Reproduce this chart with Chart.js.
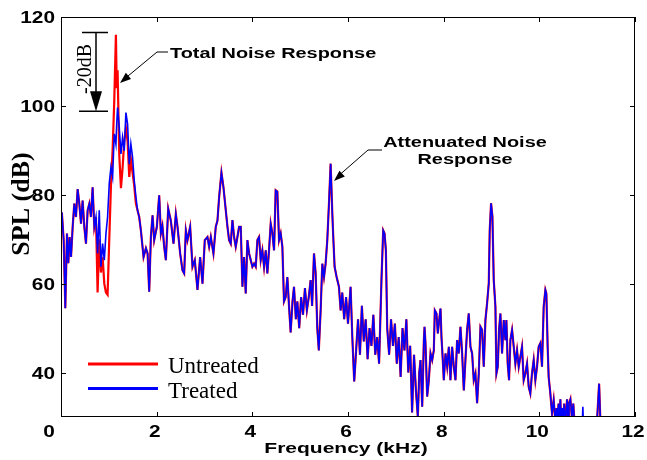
<!DOCTYPE html>
<html>
<head>
<meta charset="utf-8">
<script src="https://cdn.jsdelivr.net/npm/chart.js@4.4.0/dist/chart.umd.min.js"></script>
<style>
  body { margin: 0; background: #fff; }
  #wrap { width: 647px; height: 460px; }
</style>
</head>
<body>
<div id="wrap"><canvas id="splChart"></canvas></div>
<script>
// frequency (kHz) of each sample
const freqs = [
  0.00, 0.02, 0.056, 0.09, 0.125, 0.153, 0.18, 0.21, 0.244, 0.278, 0.313, 0.348, 0.383, 0.418, 0.452, 0.487,
  0.522, 0.557, 0.592, 0.626, 0.661, 0.696, 0.731, 0.765, 0.80, 0.835, 0.87, 0.905, 0.94, 0.974,
  1.009, 1.044, 1.079, 1.113, 1.148, 1.165, 1.183, 1.218, 1.253, 1.287, 1.322, 1.357, 1.392, 1.427, 1.461, 1.496,
  1.531, 1.566, 1.60, 1.635, 1.67, 1.726, 1.775, 1.81, 1.844, 1.879, 1.914, 1.948, 2.004, 2.053, 2.088, 2.12,
  2.157, 2.192, 2.241, 2.296, 2.352, 2.401, 2.436, 2.491, 2.54, 2.575, 2.61, 2.644, 2.70, 2.749, 2.797, 2.853,
  2.909, 2.958, 3.006, 3.062, 3.097, 3.132, 3.187, 3.236, 3.271, 3.306, 3.354, 3.396, 3.445, 3.48, 3.514,
  3.549, 3.584, 3.619, 3.653, 3.688, 3.723, 3.758, 3.793, 3.827, 3.862, 3.897, 3.932, 3.967,
  4.001, 4.036, 4.071, 4.106, 4.14, 4.175, 4.21, 4.245, 4.28, 4.314, 4.349, 4.384, 4.419, 4.454, 4.488, 4.523,
  4.558, 4.593, 4.628, 4.662, 4.697, 4.732, 4.767, 4.801, 4.84, 4.871, 4.91, 4.941, 4.98,
  5.02, 5.06, 5.10, 5.14, 5.18, 5.219, 5.25, 5.289, 5.324, 5.358, 5.39, 5.428, 5.463, 5.498, 5.532, 5.567,
  5.602, 5.637, 5.672, 5.692, 5.72, 5.762, 5.811, 5.846, 5.88, 5.92, 5.96,
  6.00, 6.054, 6.09, 6.13, 6.17, 6.21, 6.25, 6.29, 6.33, 6.37, 6.41, 6.45, 6.49, 6.53, 6.57, 6.61, 6.65,
  6.70, 6.736, 6.764, 6.792, 6.82, 6.86, 6.90, 6.94, 6.98,
  7.02, 7.06, 7.10, 7.14, 7.18, 7.22, 7.26, 7.30, 7.34, 7.38, 7.42, 7.46, 7.49, 7.516, 7.551, 7.586, 7.60,
  7.62, 7.655, 7.69, 7.725, 7.76, 7.794, 7.815, 7.85, 7.878, 7.906, 7.934, 7.954, 7.982,
  8.003, 8.038, 8.073, 8.108, 8.142, 8.177, 8.212, 8.247, 8.281, 8.316, 8.351, 8.386, 8.421, 8.455, 8.49,
  8.525, 8.56, 8.595, 8.629, 8.664, 8.699, 8.734, 8.769, 8.803, 8.838, 8.873, 8.908, 8.943, 8.963, 8.991,
  9.019, 9.047, 9.082, 9.103, 9.131, 9.158, 9.186, 9.221, 9.256, 9.291, 9.311, 9.339, 9.367, 9.395, 9.43,
  9.465, 9.499, 9.534, 9.569, 9.604, 9.638, 9.673, 9.708, 9.743, 9.778, 9.812, 9.847, 9.882, 9.917, 9.952, 9.986,
  10.021, 10.056, 10.091, 10.126, 10.147, 10.174, 10.195, 10.23, 10.265, 10.30, 10.334, 10.36, 10.38, 10.40,
  10.42, 10.44, 10.46, 10.48, 10.50, 10.52, 10.54, 10.56, 10.58, 10.60, 10.62, 10.65, 10.68, 10.71, 10.74,
  10.78, 10.85, 10.89, 10.91, 10.93, 11.00, 11.10, 11.20, 11.25, 11.28, 11.35
];

// SPL (dB) after treatment
const treated = [
  76, 75.7, 69.8, 54.5, 71.3, 64.6, 70.5, 66, 72.8, 78, 75, 81.3, 78, 73.5, 78.7, 72.8,
  69, 76.5, 78, 75, 81.7, 72.8, 75, 66.8, 76.5, 63.8, 69, 65.3, 71.3, 75,
  82.5, 86.2, 84, 93.7, 91.4, 96, 99.6, 95.1, 89.2, 92.9, 89.9, 98.5, 95.9, 86.9, 91.4, 88.4,
  83.2, 79.5, 76.5, 75, 72, 66, 68, 66.8, 58.2, 70.5, 75.4, 69.8, 72.8, 79.9, 71.3, 73,
  68.3, 65.3, 76.9, 74.2, 69, 75.7, 72.8, 66.8, 63, 62.3, 72, 69.8, 72.8, 63.8, 65.3, 58.6,
  66, 60, 69.8, 70.5, 68.3, 70.5, 66.8, 72.8, 74.2, 79.5, 85, 81.7, 76.5, 72.8, 69.8,
  69, 74.3, 70.5, 68.3, 70.5, 72.8, 72.8, 59.3, 66, 57.8, 69.8, 66.8, 65.3,
  63.8, 64.5, 63.8, 69.8, 70.5, 65.3, 67.5, 63.8, 67.5, 62.3, 67.5, 73.5, 71.3, 67.5, 81, 80.7,
  69.8, 71.3, 68.3, 56, 57, 61.5, 55, 49, 56, 59.3, 52, 56, 50,
  57, 53, 59, 54, 57, 60.8, 55, 66.8, 62.3, 50, 45, 54, 64.5, 61.5, 64.5, 69.8,
  78, 87, 75.8, 70.5, 63.8, 61.5, 59.3, 54, 58, 52, 57,
  51, 59.3, 48, 38, 45, 52, 44, 55, 47, 52, 43, 50, 46, 53, 44, 48, 42,
  61, 72, 71.3, 67.5, 50, 44, 52, 46, 51,
  42, 48, 39, 50, 45, 52, 40, 46, 31, 44, 36, 30, 40, 42.8, 32.3, 47.3, 50.3,
  46.6, 34.6, 38.3, 44.3, 42.8, 45, 54, 53.3, 48.8, 51.8, 54.4, 48, 42.8,
  38.3, 44.3, 41.3, 45.8, 38.3, 45.8, 41.3, 38.3, 47.3, 44.3, 50.3, 44.3, 36, 42.8, 49.6,
  53.3, 45.8, 44.3, 38.3, 39.8, 33.1, 39.8, 50.3, 49.6, 41.3, 51.8, 55.6, 60.1, 72, 78.1,
  75.1, 60.8, 54.8, 39.8, 41.3, 49.6, 53.3, 44.3, 51.8, 47.3, 51.8, 42, 38.3, 47.3, 49.6,
  45.8, 42, 45, 41.3, 43.6, 45.8, 38.3, 39.8, 42, 36.8, 35.3, 39.8, 42.8, 38.3, 41.3, 45.8,
  46.6, 41.3, 54.8, 58.6, 57.8, 45.8, 39, 35.3, 30.8, 33.8, 29, 32, 28, 33,
  29, 34, 28, 32, 29, 33, 28, 31, 34, 29, 33, 34, 30, 33, 28,
  26, 25, 26, 32.3, 25, 24, 25, 28, 37.5, 28, 24
];

// SPL (dB) without treatment
const untreated = [
  76, 75.7, 69.8, 54.5, 71.3, 64.6, 70.5, 66, 72.8, 78, 75, 81.3, 78, 73.5, 78.7, 72.8,
  69, 76.5, 78, 75, 81.7, 72.8, 75, 58, 70, 62.5, 66, 60, 58, 57.5,
  70, 82, 90, 101, 116, 104, 108, 89, 81.5, 86, 92, 95, 92, 84, 88, 85,
  82, 78, 76.5, 75, 72, 66, 68, 66.8, 58.2, 70.5, 75.4, 69.8, 72.8, 79.9, 71.3, 73,
  68.3, 65.3, 76.9, 74.2, 69, 75.7, 72.8, 66.8, 63, 62.3, 72, 69.8, 72.8, 63.8, 65.3, 58.6,
  66, 60, 69.8, 70.5, 68.3, 70.5, 66.8, 72.8, 74.2, 79.5, 85, 81.7, 76.5, 72.8, 69.8,
  69, 74.3, 70.5, 68.3, 70.5, 72.8, 72.8, 59.3, 66, 57.8, 69.8, 66.8, 65.3,
  63.8, 64.5, 63.8, 69.8, 70.5, 65.3, 67.5, 63.8, 67.5, 62.3, 67.5, 73.5, 71.3, 67.5, 81, 80.7,
  69.8, 71.3, 68.3, 56, 57, 61.5, 55, 49, 56, 59.3, 52, 56, 50,
  57, 53, 59, 54, 57, 60.8, 55, 66.8, 62.3, 50, 45, 54, 64.5, 61.5, 64.5, 69.8,
  78, 87, 75.8, 70.5, 63.8, 61.5, 59.3, 54, 58, 52, 57,
  51, 59.3, 48, 38, 45, 52, 44, 55, 47, 52, 43, 50, 46, 53, 44, 48, 42,
  61, 72, 71.3, 67.5, 50, 44, 52, 46, 51,
  42, 48, 39, 50, 45, 52, 40, 46, 31, 44, 36, 30, 40, 42.8, 32.3, 47.3, 50.3,
  46.6, 34.6, 38.3, 44.3, 42.8, 45, 54, 53.3, 48.8, 51.8, 54.4, 48, 42.8,
  38.3, 44.3, 41.3, 45.8, 38.3, 45.8, 41.3, 38.3, 47.3, 44.3, 50.3, 44.3, 36, 42.8, 49.6,
  53.3, 45.8, 44.3, 38.3, 39.8, 33.1, 39.8, 50.3, 49.6, 41.3, 51.8, 55.6, 60.1, 72, 78.1,
  75.1, 60.8, 54.8, 39.8, 41.3, 49.6, 53.3, 44.3, 51.8, 47.3, 51.8, 42, 38.3, 47.3, 49.6,
  45.8, 42, 45, 41.3, 43.6, 45.8, 38.3, 39.8, 42, 36.8, 35.3, 39.8, 42.8, 38.3, 41.3, 45.8,
  46.6, 41.3, 54.8, 58.6, 57.8, 45.8, 39, 35.3, 30.8, 33.8, 29, 32, 28, 33,
  29, 34, 28, 32, 29, 33, 28, 31, 34, 29, 33, 34, 30, 33, 28,
  26, 25, 26, 28, 25, 24, 25, 28, 37.5, 28, 24
];

const xTicks = [0, 2, 4, 6, 8, 10, 12];
const yTicks = [40, 60, 80, 100, 120];

const toPoints = vals => freqs.map((f, i) => ({ x: f, y: vals[i] }));

function stretchText(ctx, txt, x, y, font, align, sx) {
    ctx.save();
    ctx.font = font;
    ctx.textAlign = align;
    ctx.textBaseline = 'alphabetic';
    ctx.translate(x, y);
    ctx.scale(sx, 1);
    ctx.fillText(txt, 0, 0);
    ctx.restore();
}

function arrowHead(ctx, x1, y1, x2, y2, len, half) {
    const a = Math.atan2(y2 - y1, x2 - x1);
    ctx.beginPath();
    ctx.moveTo(x2, y2);
    ctx.lineTo(x2 - len * Math.cos(a) + half * Math.sin(a), y2 - len * Math.sin(a) - half * Math.cos(a));
    ctx.lineTo(x2 - len * Math.cos(a) - half * Math.sin(a), y2 - len * Math.sin(a) + half * Math.cos(a));
    ctx.closePath();
    ctx.fill();
}

const decorPlugin = {
    id: 'decor',
    afterDraw(chart) {
        const ctx = chart.ctx;
        const a = chart.chartArea;
        const xs = chart.scales.x, ys = chart.scales.y;
        ctx.save();
        ctx.strokeStyle = '#000';
        ctx.fillStyle = '#000';
        ctx.lineWidth = 1;
        ctx.strokeRect(a.left + 0.5, a.top + 0.5, a.right - a.left - 1, a.bottom - a.top - 1);

        // inward ticks on all four sides
        ctx.beginPath();
        xTicks.forEach(v => {
            const px = Math.round(xs.getPixelForValue(v)) + 0.5;
            ctx.moveTo(px, a.bottom); ctx.lineTo(px, a.bottom - 5);
            ctx.moveTo(px, a.top); ctx.lineTo(px, a.top + 5);
        });
        yTicks.forEach(v => {
            const py = Math.round(ys.getPixelForValue(v)) + 0.5;
            ctx.moveTo(a.left, py); ctx.lineTo(a.left + 5, py);
            ctx.moveTo(a.right, py); ctx.lineTo(a.right - 5, py);
        });
        ctx.stroke();

        const tickFont = 'bold 16px "Liberation Sans", Arial, sans-serif';
        xTicks.forEach((v, i) => {
            const px = xs.getPixelForValue(v) - (i === 0 ? 12 : 2);
            stretchText(ctx, String(v), px, a.bottom + 20, tickFont, 'center', 1.3);
        });
        yTicks.forEach(v => {
            stretchText(ctx, String(v), a.left - 6, ys.getPixelForValue(v) + 6, tickFont, 'right', 1.3);
        });

        // axis titles
        stretchText(ctx, 'Frequency (kHz)', (a.left + a.right) / 2 - 2, 453, 'bold 14px "Liberation Sans", Arial, sans-serif', 'center', 1.5);
        ctx.save();
        ctx.translate(29, 204);
        ctx.rotate(-Math.PI / 2);
        ctx.font = 'bold 26px "Liberation Serif", "Times New Roman", serif';
        ctx.textAlign = 'center';
        ctx.fillText('SPL (dB)', 0, 0);
        ctx.restore();

        // -20dB marker
        const top = ys.getPixelForValue(116.5), bot = ys.getPixelForValue(98.8);
        ctx.lineWidth = 1.5;
        ctx.beginPath();
        ctx.moveTo(82, top); ctx.lineTo(108, top);
        ctx.moveTo(79, bot); ctx.lineTo(108, bot);
        ctx.moveTo(96, top); ctx.lineTo(96, bot - 18);
        ctx.stroke();
        ctx.beginPath();
        ctx.moveTo(90, bot - 20); ctx.lineTo(102, bot - 20); ctx.lineTo(96, bot); ctx.closePath();
        ctx.fill();
        ctx.save();
        ctx.translate(91, 69);
        ctx.rotate(-Math.PI / 2);
        ctx.font = '20px "Liberation Serif", "Times New Roman", serif';
        ctx.textAlign = 'center';
        ctx.fillText('-20dB', 0, 0);
        ctx.restore();

        // callouts
        const annFont = 'bold 14px "Liberation Sans", Arial, sans-serif';
        ctx.lineWidth = 1;
        ctx.beginPath();
        ctx.moveTo(168, 52); ctx.lineTo(157, 52); ctx.lineTo(122, 81);
        ctx.stroke();
        arrowHead(ctx, 157, 52, 120, 83, 11, 4);
        stretchText(ctx, 'Total Noise Response', 170, 58, annFont, 'left', 1.42);

        ctx.beginPath();
        ctx.moveTo(382, 150); ctx.lineTo(368, 150); ctx.lineTo(336, 178);
        ctx.stroke();
        arrowHead(ctx, 368, 150, 334, 181, 11, 4);
        stretchText(ctx, 'Attenuated Noise', 465, 146.5, annFont, 'center', 1.42);
        stretchText(ctx, 'Response', 465, 164, annFont, 'center', 1.42);

        // legend
        chart.data.datasets.forEach((ds, i) => {
            const y = 364 + i * 24.5;
            ctx.strokeStyle = ds.borderColor;
            ctx.lineWidth = 3;
            ctx.beginPath();
            ctx.moveTo(88, y); ctx.lineTo(158, y);
            ctx.stroke();
            ctx.fillStyle = '#000';
            ctx.font = '23px "Liberation Serif", "Times New Roman", serif';
            ctx.textAlign = 'left';
            ctx.fillText(ds.label, 168, y + 9);
        });
        ctx.restore();
    }
};

new Chart(document.getElementById('splChart'), {
    type: 'line',
    data: {
        datasets: [
            { label: 'Untreated', data: toPoints(untreated), borderColor: '#ff0000', borderWidth: 2.2, order: 1 },
            { label: 'Treated', data: toPoints(treated), borderColor: '#0000ff', borderWidth: 1.6, order: 0 }
        ]
    },
    options: {
        responsive: true,
        maintainAspectRatio: false,
        animation: false,
        layout: { padding: { top: 17, right: 12, left: 0, bottom: 0 } },
        elements: { point: { radius: 0 }, line: { tension: 0 } },
        plugins: { legend: { display: false }, tooltip: { enabled: false } },
        scales: {
            x: {
                type: 'linear', min: 0, max: 12,
                grid: { display: false }, border: { display: false },
                ticks: { display: false },
                afterBuildTicks: s => { s.ticks = xTicks.map(v => ({ value: v })); },
                afterFit: s => { s.height = 43; }
            },
            y: {
                min: 30, max: 120,
                grid: { display: false }, border: { display: false },
                ticks: { display: false },
                afterBuildTicks: s => { s.ticks = yTicks.map(v => ({ value: v })); },
                afterFit: s => { s.width = 61; }
            }
        }
    },
    plugins: [decorPlugin]
});
</script>
</body>
</html>
